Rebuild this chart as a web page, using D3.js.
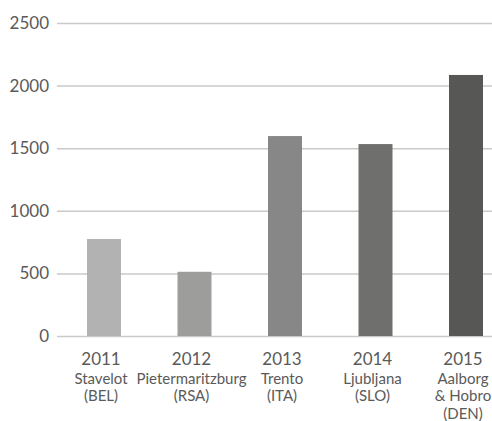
<!DOCTYPE html>
<html>
<head>
<meta charset="utf-8">
<script src="https://cdn.jsdelivr.net/npm/d3@7"></script>
<style>
  html, body { margin: 0; padding: 0; background: #fff; overflow: hidden; }
  svg { display: block; }
  text { font-family: Lato, "Noto Sans", sans-serif; fill: #5a5a59; }
</style>
</head>
<body>
<script>
const years = ["2011", "2012", "2013", "2014", "2015"];
const cities = [["Stavelot", "(BEL)"], ["Pietermaritzburg", "(RSA)"], ["Trento", "(ITA)"], ["Ljubljana", "(SLO)"], ["Aalborg", "& Hobro", "(DEN)"]];
const values = [775, 513, 1597, 1533, 2085];
const barColors = ["#b2b2b2", "#9d9d9c", "#878787", "#6f6f6e", "#575756"];
const yTicks = [0, 500, 1000, 1500, 2000, 2500];

const W = 492, H = 421;
const svg = d3.select("body").append("svg").attr("width", W).attr("height", H);

const y = d3.scaleLinear().domain([0, 2500]).range([336, 23]);
const x = d3.scalePoint().domain(years).range([101, 463]);
const barW = 34;

// gridlines + tick labels
const yAxis = d3.axisLeft(y).tickValues(yTicks).tickSize(-(W - 57)).tickPadding(8).tickFormat(d3.format("d"));
const gAxis = svg.append("g").attr("transform", "translate(57,0)").call(yAxis);
gAxis.select(".domain").remove();
gAxis.selectAll(".tick line").attr("stroke", "#c9c9c9").attr("stroke-width", 1.5);
gAxis.selectAll(".tick text").attr("font-size", 17).attr("fill", "#5a5a59").attr("font-family", "Lato, 'Noto Sans', sans-serif");

// bars
svg.append("g").selectAll("rect").data(values).join("rect")
  .attr("x", (d, i) => x(years[i]) - barW / 2 + 3)
  .attr("width", barW)
  .attr("y", d => y(d))
  .attr("height", d => y(0) - y(d))
  .attr("fill", (d, i) => barColors[i]);

// x labels
const lab = svg.append("g").selectAll("g").data(years).join("g")
  .attr("transform", d => `translate(${x(d)},0)`);
lab.append("text").attr("text-anchor", "middle").attr("y", 365).attr("font-size", 17).text(d => d);
lab.each(function(d, i) {
  const g = d3.select(this);
  cities[i].forEach((c, j) => {
    g.append("text").attr("text-anchor", "middle").attr("y", 384 + j * 17.3).attr("font-size", 15).text(c);
  });
});
</script>
</body>
</html>
